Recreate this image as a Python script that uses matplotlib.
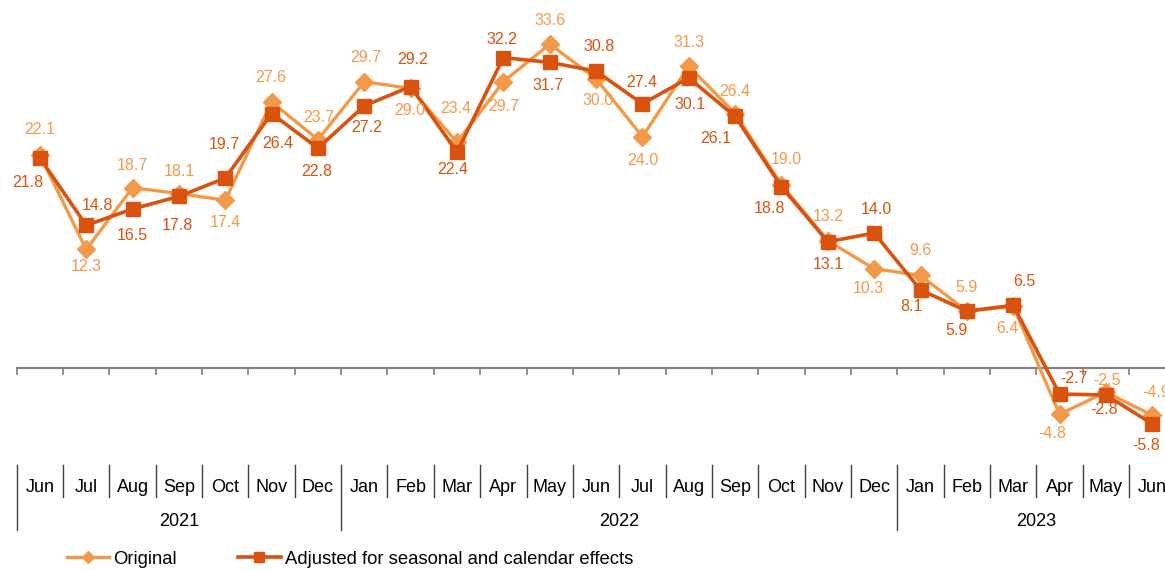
import matplotlib.pyplot as plt
from matplotlib.transforms import blended_transform_factory
from matplotlib.lines import Line2D
import numpy as np

plt.rcParams['font.family'] = ['Liberation Sans', 'DejaVu Sans']

months = ['Jun', 'Jul', 'Aug', 'Sep', 'Oct', 'Nov', 'Dec',
          'Jan', 'Feb', 'Mar', 'Apr', 'May', 'Jun', 'Jul', 'Aug', 'Sep', 'Oct', 'Nov', 'Dec',
          'Jan', 'Feb', 'Mar', 'Apr', 'May', 'Jun']
years = ['2021', '2022', '2023']
year_lengths = [7, 12, 6]

original = [22.1, 12.3, 18.7, 18.1, 17.4, 27.6, 23.7,
            29.7, 29.0, 23.4, 29.7, 33.6, 30.0, 24.0, 31.3, 26.4, 19.0, 13.2, 10.3,
            9.6, 5.9, 6.4, -4.8, -2.5, -4.9]
adjusted = [21.8, 14.8, 16.5, 17.8, 19.7, 26.4, 22.8,
            27.2, 29.2, 22.4, 32.2, 31.7, 30.8, 27.4, 30.1, 26.1, 18.8, 13.1, 14.0,
            8.1, 5.9, 6.5, -2.7, -2.8, -5.8]

# label offsets in pixels (dx, dy), dy > 0 means above the marker
orig_offsets = [(0, 25), (0, -17), (0, 22), (0, 22), (0, -22), (-1, 24), (1, 22),
                (1, 24), (-1, -22), (-1, 34), (0, -25), (0, 24), (2, -22), (0, -24), (0, 24),
                (0, 22), (5, 25), (0, 24), (-6, -20), (0, 25), (0, 24), (-6, -22), (-7, -19),
                (1, 12), (4, 23)]
adj_offsets = [(-12, -25), (11, 20), (0, -27), (-2, -29), (-1, 34), (6, -30), (-1, -23),
               (2, -22), (2, 27), (-4, -17), (-1, 18), (-2, -23), (3, 25), (-1, 21), (1, -27),
               (-19, -22), (-12, -22), (0, -23), (2, 24), (-9, -17), (-10, -19), (11, 24),
               (14, 16), (-2, -15), (-6, -22)]

c_orig = '#F29A4A'
c_adj = '#D9520E'
c_axis = '#808080'
c_table = '#404040'

W, H = 1165, 570
fig = plt.figure(figsize=(W / 100, H / 100), dpi=100)
x_left = 16.7
cat_w = 46.35
n = len(months)
ax_bottom = 455
ax = fig.add_axes([x_left / W, 1 - ax_bottom / H, n * cat_w / W, ax_bottom / H])

xs = np.arange(n)
ax.plot(xs, original, color=c_orig, lw=2.4, marker='D', ms=9, zorder=3)
ax.plot(xs, adjusted, color=c_adj, lw=2.6, marker='s', ms=9.5, zorder=4)

for i in range(n):
    dx, dy = orig_offsets[i]
    ax.annotate('%.1f' % original[i], (xs[i], original[i]), xytext=(dx, dy),
                textcoords='offset pixels', ha='center', va='center',
                fontsize=11.5, color=c_orig, zorder=5, annotation_clip=False)
    dx, dy = adj_offsets[i]
    ax.annotate('%.1f' % adjusted[i], (xs[i], adjusted[i]), xytext=(dx, dy),
                textcoords='offset pixels', ha='center', va='center',
                fontsize=11.5, color=c_adj, zorder=5, annotation_clip=False)

scale = 9.64
ax.set_xlim(-0.5, n - 0.5)
ax.set_ylim(-(ax_bottom - 368) / scale, 368 / scale)

for s in ['top', 'right', 'left']:
    ax.spines[s].set_visible(False)
ax.spines['bottom'].set_position(('data', 0))
ax.spines['bottom'].set_color(c_axis)
ax.spines['bottom'].set_linewidth(1.5)
ax.set_yticks([])
ax.set_xticks(np.arange(n + 1) - 0.5)
ax.set_xticklabels([])
ax.tick_params(axis='x', direction='out', length=5, width=1.2, color=c_axis)

# category table below the plot
tr = blended_transform_factory(ax.transData, fig.transFigure)
def fy(py):
    return 1 - py / H

year_starts = np.cumsum([0] + year_lengths)
for b in range(n + 1):
    bottom = 530 if b in year_starts else 497
    ax.add_line(Line2D([b - 0.5, b - 0.5], [fy(465), fy(bottom)], transform=tr,
                       color=c_table, lw=1, clip_on=False))
for i, m in enumerate(months):
    ax.text(i, fy(488), m, transform=tr, ha='center', va='center', fontsize=13, color='black')
for k, y in enumerate(years):
    center = (year_starts[k] + year_starts[k + 1] - 1) / 2
    ax.text(center, fy(521), y, transform=tr, ha='center', va='center', fontsize=13, color='black')

# legend
h1 = Line2D([], [], color=c_orig, lw=2.4, marker='D', ms=6)
h2 = Line2D([], [], color=c_adj, lw=2.6, marker='s', ms=7.5)
fig.legend([h1, h2], ['Original', 'Adjusted for seasonal and calendar effects'],
           loc='center left', bbox_to_anchor=(67 / W, fy(559)), ncol=2, frameon=False,
           fontsize=13.3, handlelength=2.3, handletextpad=0.22, columnspacing=3.3,
           borderpad=0, borderaxespad=0)

fig.savefig('out.png', dpi=100)
